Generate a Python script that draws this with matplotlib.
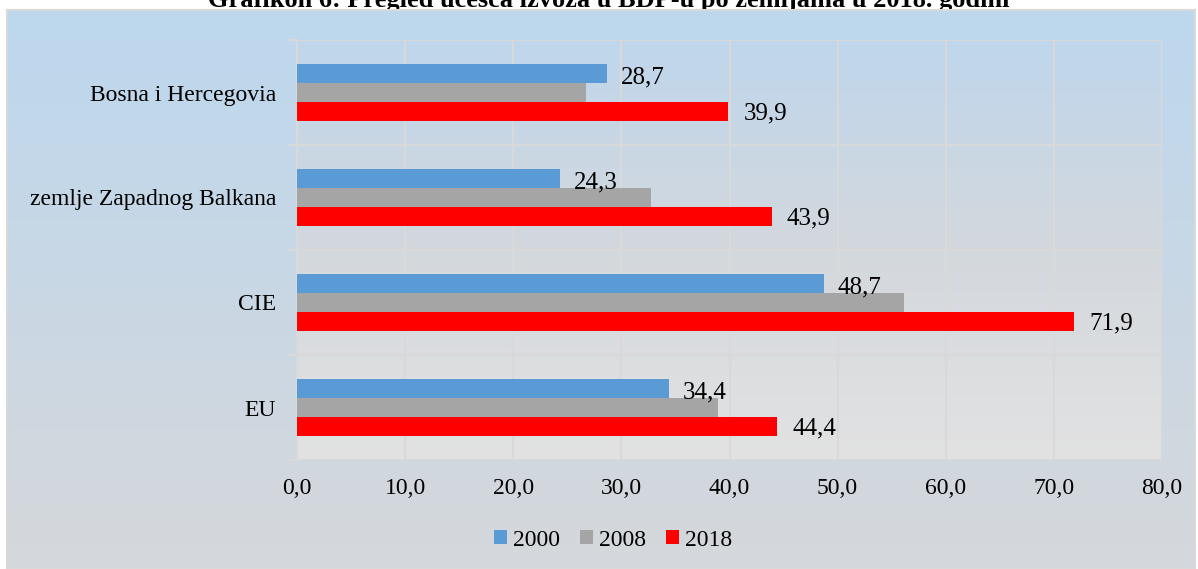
import numpy as np
import matplotlib
matplotlib.use("Agg")
import matplotlib.pyplot as plt
from matplotlib.colors import LinearSegmentedColormap

plt.rcParams['font.family'] = ['Liberation Serif', 'DejaVu Serif']

categories = ["Bosna i Hercegovia", "zemlje Zapadnog Balkana", "CIE", "EU"]
years = ["2000", "2008", "2018"]
v2000 = [28.7, 24.3, 48.7, 34.4]
v2008 = [26.7, 32.7, 56.1, 38.9]
v2018 = [39.9, 43.9, 71.9, 44.4]
xticks = [0, 10, 20, 30, 40, 50, 60, 70, 80]
xtick_labels = ["0,0", "10,0", "20,0", "30,0", "40,0", "50,0", "60,0", "70,0", "80,0"]
title = "Grafikon 6: Pregled učešća izvoza u BDP-u po zemljama u 2018. godini"

colors = ["#5B9BD5", "#A5A5A5", "#FF0000"]
W, H = 1198, 569
fig = plt.figure(figsize=(W / 100, H / 100), dpi=100)
fig.patch.set_facecolor("white")

# outer panel gradient
bg = fig.add_axes([7 / W, 0, (1195 - 7) / W, 559 / H])
cmap_out = LinearSegmentedColormap.from_list("o", ["#BDD7EE", "#D5D8DB"])
grad = np.linspace(0, 1, 256).reshape(-1, 1)
bg.imshow(grad, aspect="auto", cmap=cmap_out, extent=[0, 1, 0, 1], origin="upper")
bg.set_xlim(0, 1); bg.set_ylim(0, 1)
for s in bg.spines.values():
    s.set_color("#D9D9D9"); s.set_linewidth(1.5)
bg.set_xticks([]); bg.set_yticks([])
bg.set_zorder(1)

# title (cut off at top, as in the source)
fig.text(609 / W, 1 - 7 / H, title, ha="center", va="baseline", fontsize=19,
         fontweight="bold", zorder=0)

ax = fig.add_axes([297 / W, 1 - 460 / H, (1162 - 297) / W, (460 - 40) / H])
ax.set_zorder(2)
ax.patch.set_alpha(0)
cmap_in = LinearSegmentedColormap.from_list("i", ["#BFD6EC", "#D3D8DD", "#E2E2E2"])
ax.imshow(grad, aspect="auto", cmap=cmap_in, extent=[0, 80, 3.5, -0.5],
          origin="upper", zorder=0)

y = np.arange(len(categories))
h = 0.182
for i, (vals, c) in enumerate(zip([v2000, v2008, v2018], colors)):
    ax.barh(y + (i - 1) * h, vals, height=h, color=c, label=years[i], zorder=3)

for yi, v in zip(y, v2000):
    ax.annotate(f"{v:.1f}".replace(".", ","), (v, yi - h), xytext=(10, -3),
                textcoords="offset points", va="center", ha="left", fontsize=18, zorder=4)
for yi, v in zip(y, v2018):
    ax.annotate(f"{v:.1f}".replace(".", ","), (v, yi + h), xytext=(11, -1),
                textcoords="offset points", va="center", ha="left", fontsize=18, zorder=4)

ax.set_xlim(0, 80)
ax.set_ylim(3.5, -0.5)
ax.set_xticks(xticks)
ax.set_xticklabels(xtick_labels, fontsize=17)
ax.set_yticks(y)
ax.set_yticklabels(categories, fontsize=17)
ax.set_yticks([-0.5, 0.5, 1.5, 2.5, 3.5], minor=True)
ax.tick_params(axis="x", length=0, pad=13)
ax.tick_params(axis="y", which="major", length=0, pad=15)
ax.tick_params(axis="y", which="minor", length=7, color="#D9D9D9", width=1.5)
for s in ["top", "right", "bottom"]:
    ax.spines[s].set_visible(False)
ax.spines["left"].set_color("#D9D9D9")
ax.spines["left"].set_linewidth(1.5)
ax.grid(axis="x", color="#D9D9D9", lw=1.5, zorder=1)
ax.grid(axis="y", which="minor", color="#D9D9D9", lw=1.5, zorder=1)
ax.set_axisbelow(True)

leg = fig.legend(loc="center", bbox_to_anchor=(613 / W, 1 - 540 / H), ncol=3,
                 frameon=False, fontsize=17, handlelength=0.55, handleheight=0.55,
                 handletextpad=0.25, columnspacing=0.85)
leg.set_zorder(3)

fig.savefig("out.png", dpi=100)
